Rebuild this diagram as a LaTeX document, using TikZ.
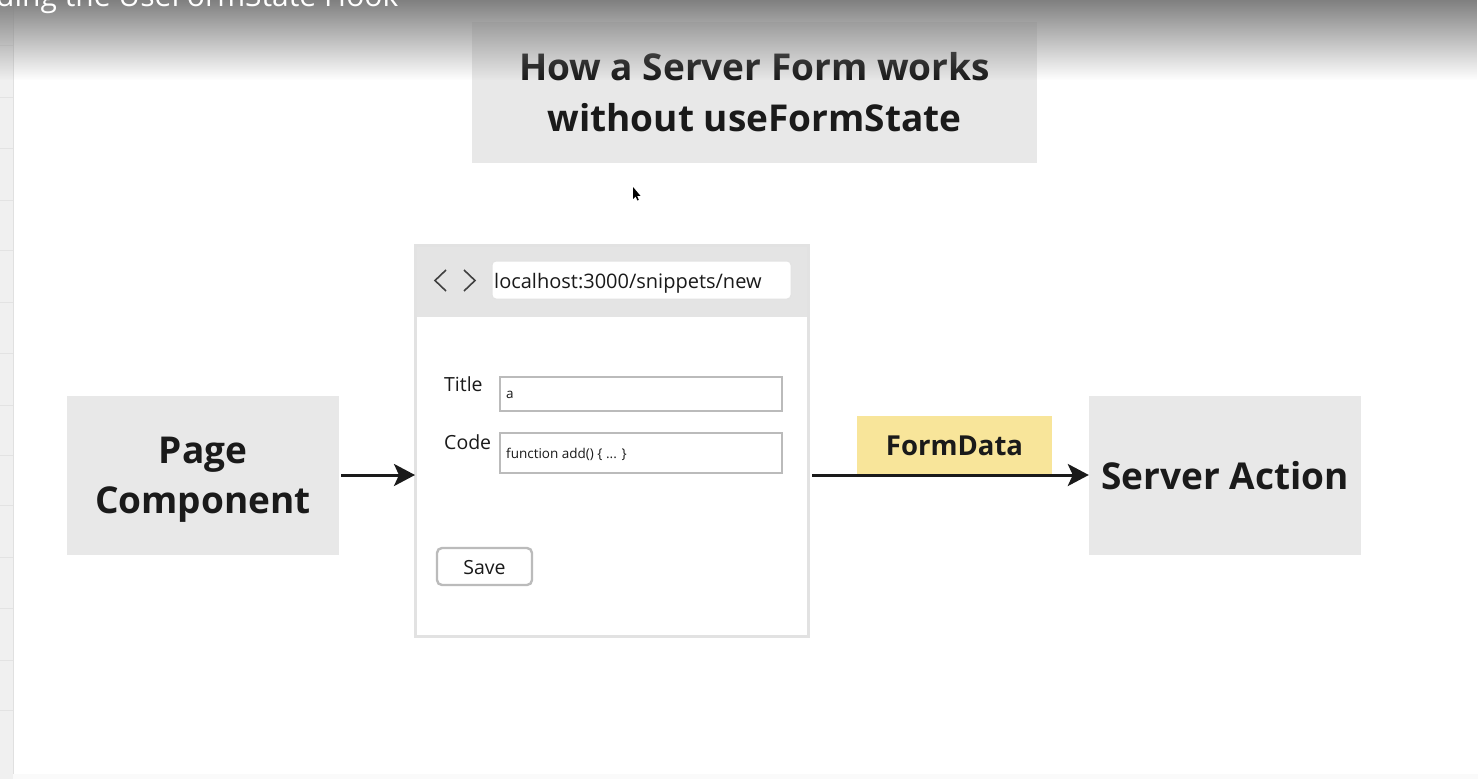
\documentclass[tikz,border=0pt]{standalone}
\usepackage{fontspec}
\setmainfont{Open Sans}
\usetikzlibrary{arrows.meta,fadings,calc}
\definecolor{boxgrey}{HTML}{E8E8E8}
\definecolor{hdrgrey}{HTML}{E4E4E4}
\definecolor{brdgrey}{HTML}{E2E2E2}
\definecolor{fldgrey}{HTML}{BBBBBB}
\definecolor{ink}{HTML}{1A1A1A}
\definecolor{fdyellow}{HTML}{F8E59A}
\tikzfading[name=fadedown, top color=transparent!0, bottom color=transparent!100]
\tikzset{
  greybox/.style={fill=boxgrey, draw=none, inner sep=0pt, text=ink, align=center},
  bigtext/.style={font=\fontsize{37}{50}\selectfont\bfseries},
  field/.style={draw=fldgrey, line width=2.4pt, fill=white},
  lbl/.style={font=\fontsize{19.5}{22}\selectfont, text=ink, inner sep=0pt},
  small/.style={font=\fontsize{13.5}{16}\selectfont, text=ink, inner sep=0pt},
  flow/.style={draw=ink, line width=3pt, -{Stealth[length=21pt,width=22pt,inset=5pt]}},
}
\begin{document}
\begin{tikzpicture}[x=1pt,y=-1pt]
\useasboundingbox (0,0) rectangle (1478,779);
\fill[white] (0,0) rectangle (1478,779);
% left strip
\fill[black!6] (0,0) rectangle (13,779);
\draw[black!12, line width=0.8pt] (13,0) -- (13,779);
\foreach \yy in {45,97,148,200,250,302,353,405,455,505,557,608,660,710} {
  \draw[black!11, line width=0.7pt] (0,\yy) -- (13,\yy);
}
\fill[black!2] (13,774) rectangle (1478,779);
% title
\node[greybox, minimum width=565pt, minimum height=141pt, font=\fontsize{37}{51}\selectfont\bfseries] (title) at (754.5,92) {How a Server Form works\\without useFormState};
% page component
\node[greybox, bigtext, minimum width=272pt, minimum height=159pt] (page) at (203,475.5) {};
\node[bigtext, text=ink, align=center, inner sep=0pt] (pagetext) at (203,480) {Page\\Component};
% server action
\node[greybox, bigtext, minimum width=272pt, minimum height=159pt] (server) at (1225,475.5) {Server Action};
% browser
\node[draw=brdgrey, line width=2pt, fill=white, minimum width=392pt, minimum height=390pt, inner sep=0pt] (browser) at (612,441) {};
\fill[hdrgrey] (417,247) rectangle (807,317);
\draw[brdgrey, line width=2pt] (browser.north west) rectangle (browser.south east);
\node[fill=white, draw=brdgrey, line width=1pt, rounded corners=4pt, minimum width=299pt, minimum height=38pt, inner sep=0pt] (url) at (641.5,280) {};
\node[font=\fontsize{20}{22}\selectfont, text=ink, anchor=west, inner sep=0pt] (urltext) at (494,283) {localhost:3000/snippets/new};
\draw[black!75, line width=1.6pt] (446,270) -- (435,280.5) -- (446,291);
\draw[black!75, line width=1.6pt] (464,270) -- (475,280.5) -- (464,291);
% fields
\node[lbl, anchor=base west] (titlelbl) at (444,391) {Title};
\node[field, minimum width=282pt, minimum height=34pt, inner sep=0pt] (titlefld) at (641,394) {};
\node[small, anchor=west] (titleval) at (506,395) {a};
\node[lbl, anchor=base west] (codelbl) at (444,449) {Code};
\node[field, minimum width=282pt, minimum height=40pt, inner sep=0pt] (codefld) at (641,453) {};
\node[small, anchor=west] (codeval) at (506,454) {function add() \{ ... \}};
\node[field, rounded corners=5pt, minimum width=95pt, minimum height=37pt, inner sep=0pt] (save) at (484.5,566.5) {};
\node[lbl] (savetext) at (484.5,567.5) {Save};
% formdata
\node[fill=fdyellow, minimum width=195pt, minimum height=59pt, inner sep=0pt, text=ink, font=\fontsize{27.5}{30}\selectfont\bfseries] (formdata) at (954.5,445.5) {FormData};
% arrows
\draw[flow, shorten <=2pt] (page.east |- 0,475) -- (browser.west |- 0,475);
\draw[flow, shorten <=3pt] (browser.east |- 0,475) -- (server.west |- 0,475);
% top video overlay
\fill[black!50, path fading=fadedown] (0,0) rectangle (1478,80);
\node[white, anchor=base west, inner sep=0pt, font=\fontsize{30}{30}\selectfont] (vtitle) at (-4,6) {ding the UseFormState Hook};
% cursor
\fill[black] (633,187) -- (633,199) -- (635.6,196.4) -- (637.4,200.5) -- (638.8,199.9) -- (637.1,195.9) -- (640.5,195.9) -- cycle;
\end{tikzpicture}
\end{document}
